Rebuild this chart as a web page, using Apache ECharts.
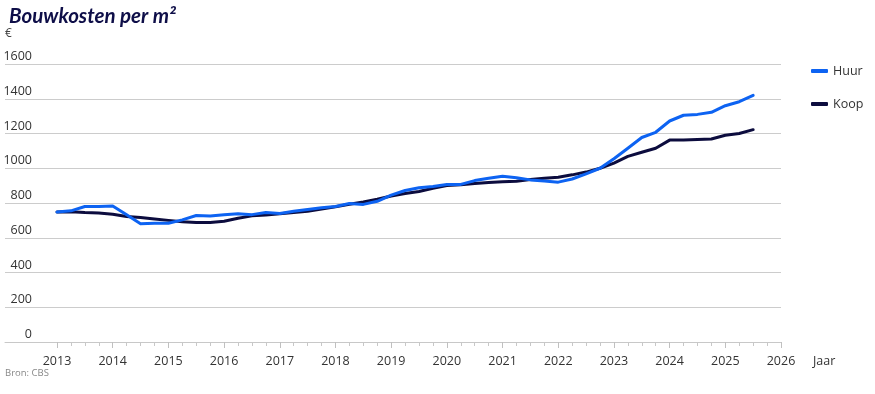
<!DOCTYPE html>
<html>
<head>
<meta charset="utf-8">
<script src="https://cdn.jsdelivr.net/npm/echarts@6/dist/echarts.min.js"></script>
<style>
html,body{margin:0;padding:0;background:#fff;}
#chart{width:875px;height:394px;}
</style>
</head>
<body>
<div id="chart"></div>
<script>
// Quarterly periods (2013 Q1 .. 2025 Q3)
const periods = [
  '2013Q1','2013Q2','2013Q3','2013Q4','2014Q1','2014Q2','2014Q3','2014Q4',
  '2015Q1','2015Q2','2015Q3','2015Q4','2016Q1','2016Q2','2016Q3','2016Q4',
  '2017Q1','2017Q2','2017Q3','2017Q4','2018Q1','2018Q2','2018Q3','2018Q4',
  '2019Q1','2019Q2','2019Q3','2019Q4','2020Q1','2020Q2','2020Q3','2020Q4',
  '2021Q1','2021Q2','2021Q3','2021Q4','2022Q1','2022Q2','2022Q3','2022Q4',
  '2023Q1','2023Q2','2023Q3','2023Q4','2024Q1','2024Q2','2024Q3','2024Q4',
  '2025Q1','2025Q2','2025Q3'
];
const huur = [
  748,755,780,780,783,732,680,683,
  683,703,728,725,732,738,733,745,
  740,752,763,772,780,797,792,810,
  845,872,888,895,906,907,929,942,
  954,945,933,926,920,938,968,1000,
  1055,1115,1177,1207,1272,1305,1310,1322,
  1360,1383,1420
];
const koop = [
  748,750,745,742,735,722,717,708,
  700,692,688,688,695,712,726,731,
  738,745,752,765,778,793,806,822,
  840,855,866,885,900,905,912,918,
  922,925,935,942,948,962,978,1000,
  1030,1068,1092,1115,1162,1162,1165,1168,
  1190,1200,1222
];
const yearTicks = [2013,2014,2015,2016,2017,2018,2019,2020,2021,2022,2023,2024,2025,2026];
const seriesNames = ['Huur','Koop'];
const title = 'Bouwkosten per m²';
const unit = '€';
const source = 'Bron: CBS';
const xName = 'Jaar';

function periodToX(p){
  return parseInt(p.slice(0,4),10) + (parseInt(p.slice(5),10)-1)/4;
}
const quarterTicks = [];
for (let i = 0; i < yearTicks.length - 1; i++) {
  for (let q = 1; q < 4; q++) quarterTicks.push(yearTicks[i] + q/4);
}

const FONT = '"Open Sans", sans-serif';
const chart = echarts.init(document.getElementById('chart'), null, {renderer:'canvas'});
const xMin = 2012.066, xMax = 2026;

chart.setOption({
  animation:false,
  backgroundColor:'#ffffff',
  title:{
    text:title, left:4, top:1,
    textStyle:{fontFamily:'Lato, sans-serif', fontStyle:'italic', fontWeight:'bold', fontSize:20.5, color:'#0e0e48'}
  },
  legend:{
    orient:'vertical', left:806, top:58,
    data:seriesNames,
    icon:'roundRect', itemWidth:17, itemHeight:4, itemGap:17,
    textStyle:{fontFamily:FONT, fontSize:12.5, color:'#333', lineHeight:16}
  },
  graphic:[
    {type:'text', left:5, top:28, style:{text:unit, fontFamily:FONT, fontSize:12, fill:'#444'}},
    {type:'text', left:5, top:368, style:{text:source, fontFamily:FONT, fontSize:9.5, fill:'#888'}},
    {type:'text', left:813, top:355, style:{text:xName, fontFamily:FONT, fontSize:12.5, fill:'#333'}}
  ],
  grid:{left:5, right:94, top:64, bottom:52, containLabel:false},
  xAxis:[
    {
      type:'value', min:xMin, max:xMax,
      axisLine:{show:true, lineStyle:{color:'#c8c8c8', width:1}},
      axisTick:{show:true, customValues:yearTicks, length:6, lineStyle:{color:'#c0c0c0'}},
      axisLabel:{customValues:yearTicks, fontFamily:FONT, fontSize:12.5, color:'#333', margin:13,
        formatter:v=>String(Math.round(v))},
      splitLine:{show:false}
    },
    {
      type:'value', min:xMin, max:xMax, gridIndex:0, position:'bottom',
      axisLine:{show:false},
      axisTick:{show:true, customValues:quarterTicks, length:4, lineStyle:{color:'#c8c8c8'}},
      axisLabel:{show:false},
      splitLine:{show:false}
    }
  ],
  yAxis:{
    type:'value', min:0, max:1600, interval:200,
    axisLine:{show:false}, axisTick:{show:false},
    axisLabel:{inside:true, margin:27, align:'right', verticalAlign:'bottom',
      fontFamily:FONT, fontSize:12.5, color:'#333', padding:[0,0,1,0],
      formatter:v=>String(v)},
    splitLine:{show:true, lineStyle:{color:'#cccccc', width:1}}
  },
  series:[
    {
      name:seriesNames[1], type:'line', xAxisIndex:0,
      data:periods.map((p,i)=>[periodToX(p), koop[i]]),
      symbol:'none', smooth:false,
      lineStyle:{color:'#0c0c3e', width:3, cap:'round', join:'round'},
      itemStyle:{color:'#0c0c3e'}
    },
    {
      name:seriesNames[0], type:'line', xAxisIndex:0,
      data:periods.map((p,i)=>[periodToX(p), huur[i]]),
      symbol:'none', smooth:false,
      lineStyle:{color:'#0d63f2', width:3, cap:'round', join:'round'},
      itemStyle:{color:'#0d63f2'}
    }
  ]
});
</script>
</body>
</html>
